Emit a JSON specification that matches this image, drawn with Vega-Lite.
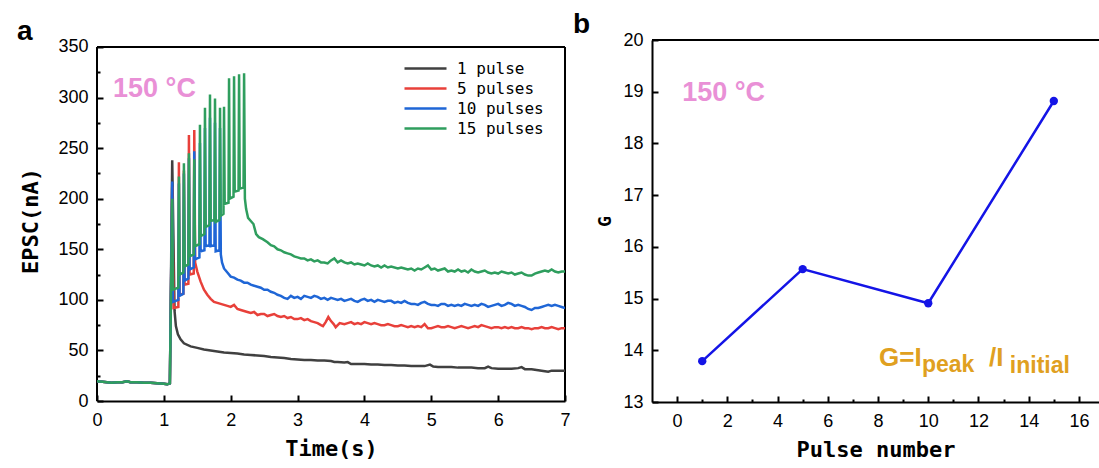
{
"$schema": "https://vega.github.io/schema/vega-lite/v6.json",
"padding": {"left": 17, "top": 11, "right": 0, "bottom": 0},
"spacing": 2,
"config": {
  "view": {"stroke": null},
  "axis": {"domainColor": "black", "domainWidth": 2, "tickColor": "black", "tickWidth": 2, "tickSize": -6, "labelFont": "Liberation Sans", "labelFontSize": 18, "labelColor": "black", "titleFont": "DejaVu Sans Mono", "titleFontSize": 22, "titleFontWeight": "bold", "titleColor": "black", "grid": false, "labelFlush": false, "labelOverlap": false}
},
"datasets": {
"a": [
{"s":"1 pulse","t":0,"v":19.5},{"s":"1 pulse","t":0.08,"v":19},{"s":"1 pulse","t":0.15,"v":18.5},{"s":"1 pulse","t":0.22,"v":18},{"s":"1 pulse","t":0.3,"v":18.5},{"s":"1 pulse","t":0.38,"v":18.5},{"s":"1 pulse","t":0.45,"v":19.5},{"s":"1 pulse","t":0.5,"v":18.5},{"s":"1 pulse","t":0.6,"v":18.5},{"s":"1 pulse","t":0.7,"v":18},{"s":"1 pulse","t":0.8,"v":18},{"s":"1 pulse","t":0.9,"v":17.5},{"s":"1 pulse","t":1.0,"v":17},{"s":"1 pulse","t":1.05,"v":16.5},{"s":"1 pulse","t":1.09,"v":17.5},
{"s":"1 pulse","t":1.125,"v":238},{"s":"1 pulse","t":1.16,"v":89},{"s":"1 pulse","t":1.18,"v":74},{"s":"1 pulse","t":1.21,"v":66},{"s":"1 pulse","t":1.25,"v":61},{"s":"1 pulse","t":1.3,"v":57},{"s":"1 pulse","t":1.4,"v":54},{"s":"1 pulse","t":1.5,"v":52.5},{"s":"1 pulse","t":1.6,"v":51},{"s":"1 pulse","t":1.7,"v":50},{"s":"1 pulse","t":1.8,"v":49},{"s":"1 pulse","t":1.9,"v":48},{"s":"1 pulse","t":2.0,"v":47.5},{"s":"1 pulse","t":2.1,"v":47},{"s":"1 pulse","t":2.2,"v":46},{"s":"1 pulse","t":2.3,"v":45.5},{"s":"1 pulse","t":2.4,"v":45},{"s":"1 pulse","t":2.5,"v":44.5},{"s":"1 pulse","t":2.6,"v":43.5},{"s":"1 pulse","t":2.7,"v":43},{"s":"1 pulse","t":2.8,"v":42.5},{"s":"1 pulse","t":2.9,"v":41.5},{"s":"1 pulse","t":3.0,"v":41},{"s":"1 pulse","t":3.1,"v":40.5},{"s":"1 pulse","t":3.2,"v":40.5},{"s":"1 pulse","t":3.3,"v":40},{"s":"1 pulse","t":3.4,"v":40},{"s":"1 pulse","t":3.5,"v":39.5},{"s":"1 pulse","t":3.55,"v":38.5},{"s":"1 pulse","t":3.6,"v":38.5},{"s":"1 pulse","t":3.7,"v":38},{"s":"1 pulse","t":3.75,"v":38.5},{"s":"1 pulse","t":3.8,"v":36.5},{"s":"1 pulse","t":3.9,"v":36.5},{"s":"1 pulse","t":4.0,"v":36.5},{"s":"1 pulse","t":4.1,"v":36},{"s":"1 pulse","t":4.2,"v":36},{"s":"1 pulse","t":4.3,"v":35.5},{"s":"1 pulse","t":4.4,"v":35.5},{"s":"1 pulse","t":4.5,"v":35},{"s":"1 pulse","t":4.6,"v":35},{"s":"1 pulse","t":4.7,"v":34.5},{"s":"1 pulse","t":4.8,"v":34.5},{"s":"1 pulse","t":4.9,"v":34.5},{"s":"1 pulse","t":4.98,"v":36},{"s":"1 pulse","t":5.03,"v":34},{"s":"1 pulse","t":5.1,"v":33.5},{"s":"1 pulse","t":5.2,"v":33.5},{"s":"1 pulse","t":5.3,"v":33.5},{"s":"1 pulse","t":5.4,"v":33},{"s":"1 pulse","t":5.5,"v":33},{"s":"1 pulse","t":5.6,"v":33},{"s":"1 pulse","t":5.7,"v":32.5},{"s":"1 pulse","t":5.8,"v":32.5},{"s":"1 pulse","t":5.85,"v":34},{"s":"1 pulse","t":5.9,"v":32.5},{"s":"1 pulse","t":6.0,"v":32},{"s":"1 pulse","t":6.1,"v":32},{"s":"1 pulse","t":6.2,"v":32},{"s":"1 pulse","t":6.3,"v":32.5},{"s":"1 pulse","t":6.35,"v":33.5},{"s":"1 pulse","t":6.4,"v":31.5},{"s":"1 pulse","t":6.5,"v":31.5},{"s":"1 pulse","t":6.6,"v":30.5},{"s":"1 pulse","t":6.7,"v":29.5},{"s":"1 pulse","t":6.75,"v":29},{"s":"1 pulse","t":6.8,"v":30},{"s":"1 pulse","t":6.9,"v":30},{"s":"1 pulse","t":7.0,"v":30},
{"s":"5 pulses","t":0,"v":19.5},{"s":"5 pulses","t":0.08,"v":19},{"s":"5 pulses","t":0.15,"v":18.5},{"s":"5 pulses","t":0.22,"v":18},{"s":"5 pulses","t":0.3,"v":18.5},{"s":"5 pulses","t":0.38,"v":18.5},{"s":"5 pulses","t":0.45,"v":19.5},{"s":"5 pulses","t":0.5,"v":18.5},{"s":"5 pulses","t":0.6,"v":18.5},{"s":"5 pulses","t":0.7,"v":18},{"s":"5 pulses","t":0.8,"v":18},{"s":"5 pulses","t":0.9,"v":17.5},{"s":"5 pulses","t":1.0,"v":17},{"s":"5 pulses","t":1.05,"v":16.5},{"s":"5 pulses","t":1.09,"v":17.5},
{"s":"5 pulses","t":1.125,"v":212},{"s":"5 pulses","t":1.145,"v":92},{"s":"5 pulses","t":1.217,"v":93},{"s":"5 pulses","t":1.225,"v":236},{"s":"5 pulses","t":1.235,"v":105},{"s":"5 pulses","t":1.292,"v":106},{"s":"5 pulses","t":1.3,"v":228},{"s":"5 pulses","t":1.31,"v":115},{"s":"5 pulses","t":1.367,"v":116},{"s":"5 pulses","t":1.375,"v":263},{"s":"5 pulses","t":1.385,"v":125},{"s":"5 pulses","t":1.447,"v":126},{"s":"5 pulses","t":1.455,"v":268},{"s":"5 pulses","t":1.468,"v":137},{"s":"5 pulses","t":1.5,"v":128},{"s":"5 pulses","t":1.55,"v":118},{"s":"5 pulses","t":1.6,"v":110},{"s":"5 pulses","t":1.65,"v":105},{"s":"5 pulses","t":1.7,"v":101},{"s":"5 pulses","t":1.75,"v":98},{"s":"5 pulses","t":1.8,"v":97},{"s":"5 pulses","t":1.85,"v":96},{"s":"5 pulses","t":1.9,"v":95},{"s":"5 pulses","t":1.95,"v":94},{"s":"5 pulses","t":2.0,"v":93},{"s":"5 pulses","t":2.05,"v":95},{"s":"5 pulses","t":2.1,"v":91},{"s":"5 pulses","t":2.15,"v":90},{"s":"5 pulses","t":2.2,"v":89},{"s":"5 pulses","t":2.25,"v":88},{"s":"5 pulses","t":2.3,"v":87},{"s":"5 pulses","t":2.35,"v":88},{"s":"5 pulses","t":2.4,"v":85},{"s":"5 pulses","t":2.45,"v":86},{"s":"5 pulses","t":2.5,"v":86},{"s":"5 pulses","t":2.55,"v":84},{"s":"5 pulses","t":2.6,"v":85},{"s":"5 pulses","t":2.65,"v":86},{"s":"5 pulses","t":2.7,"v":84},{"s":"5 pulses","t":2.75,"v":83},{"s":"5 pulses","t":2.8,"v":84},{"s":"5 pulses","t":2.85,"v":82},{"s":"5 pulses","t":2.9,"v":83},{"s":"5 pulses","t":2.95,"v":81},{"s":"5 pulses","t":3.0,"v":81},{"s":"5 pulses","t":3.05,"v":82},{"s":"5 pulses","t":3.1,"v":80},{"s":"5 pulses","t":3.15,"v":81},{"s":"5 pulses","t":3.2,"v":79},{"s":"5 pulses","t":3.25,"v":78},{"s":"5 pulses","t":3.3,"v":77},{"s":"5 pulses","t":3.35,"v":75},{"s":"5 pulses","t":3.38,"v":74},{"s":"5 pulses","t":3.42,"v":78},{"s":"5 pulses","t":3.46,"v":83},{"s":"5 pulses","t":3.5,"v":79},{"s":"5 pulses","t":3.54,"v":76},{"s":"5 pulses","t":3.57,"v":73},{"s":"5 pulses","t":3.6,"v":75},{"s":"5 pulses","t":3.63,"v":77},{"s":"5 pulses","t":3.7,"v":76},{"s":"5 pulses","t":3.75,"v":77},{"s":"5 pulses","t":3.8,"v":78},{"s":"5 pulses","t":3.85,"v":76},{"s":"5 pulses","t":3.9,"v":77},{"s":"5 pulses","t":3.95,"v":76},{"s":"5 pulses","t":4.0,"v":78},{"s":"5 pulses","t":4.05,"v":77},{"s":"5 pulses","t":4.1,"v":76},{"s":"5 pulses","t":4.15,"v":77},{"s":"5 pulses","t":4.2,"v":76},{"s":"5 pulses","t":4.25,"v":75},{"s":"5 pulses","t":4.3,"v":75},{"s":"5 pulses","t":4.35,"v":76},{"s":"5 pulses","t":4.4,"v":75},{"s":"5 pulses","t":4.45,"v":74},{"s":"5 pulses","t":4.5,"v":74},{"s":"5 pulses","t":4.55,"v":75},{"s":"5 pulses","t":4.6,"v":74},{"s":"5 pulses","t":4.65,"v":73},{"s":"5 pulses","t":4.7,"v":74},{"s":"5 pulses","t":4.75,"v":73},{"s":"5 pulses","t":4.8,"v":74},{"s":"5 pulses","t":4.85,"v":73},{"s":"5 pulses","t":4.9,"v":76},{"s":"5 pulses","t":4.95,"v":72},{"s":"5 pulses","t":5.0,"v":72},{"s":"5 pulses","t":5.05,"v":73},{"s":"5 pulses","t":5.1,"v":74},{"s":"5 pulses","t":5.15,"v":73},{"s":"5 pulses","t":5.2,"v":73},{"s":"5 pulses","t":5.25,"v":74},{"s":"5 pulses","t":5.3,"v":73},{"s":"5 pulses","t":5.35,"v":72},{"s":"5 pulses","t":5.4,"v":73},{"s":"5 pulses","t":5.45,"v":74},{"s":"5 pulses","t":5.5,"v":73},{"s":"5 pulses","t":5.55,"v":72},{"s":"5 pulses","t":5.6,"v":73},{"s":"5 pulses","t":5.65,"v":74},{"s":"5 pulses","t":5.7,"v":73},{"s":"5 pulses","t":5.75,"v":75},{"s":"5 pulses","t":5.8,"v":74},{"s":"5 pulses","t":5.85,"v":73},{"s":"5 pulses","t":5.9,"v":72},{"s":"5 pulses","t":5.95,"v":73},{"s":"5 pulses","t":6.0,"v":73},{"s":"5 pulses","t":6.05,"v":72},{"s":"5 pulses","t":6.1,"v":73},{"s":"5 pulses","t":6.15,"v":72},{"s":"5 pulses","t":6.2,"v":73},{"s":"5 pulses","t":6.25,"v":72},{"s":"5 pulses","t":6.3,"v":72},{"s":"5 pulses","t":6.35,"v":73},{"s":"5 pulses","t":6.4,"v":72},{"s":"5 pulses","t":6.45,"v":72},{"s":"5 pulses","t":6.5,"v":71},{"s":"5 pulses","t":6.55,"v":72},{"s":"5 pulses","t":6.6,"v":72},{"s":"5 pulses","t":6.65,"v":73},{"s":"5 pulses","t":6.7,"v":72},{"s":"5 pulses","t":6.75,"v":72},{"s":"5 pulses","t":6.8,"v":73},{"s":"5 pulses","t":6.85,"v":72},{"s":"5 pulses","t":6.9,"v":71},{"s":"5 pulses","t":6.95,"v":72},{"s":"5 pulses","t":7.0,"v":72},
{"s":"10 pulses","t":0,"v":19.5},{"s":"10 pulses","t":0.08,"v":19},{"s":"10 pulses","t":0.15,"v":18.5},{"s":"10 pulses","t":0.22,"v":18},{"s":"10 pulses","t":0.3,"v":18.5},{"s":"10 pulses","t":0.38,"v":18.5},{"s":"10 pulses","t":0.45,"v":19.5},{"s":"10 pulses","t":0.5,"v":18.5},{"s":"10 pulses","t":0.6,"v":18.5},{"s":"10 pulses","t":0.7,"v":18},{"s":"10 pulses","t":0.8,"v":18},{"s":"10 pulses","t":0.9,"v":17.5},{"s":"10 pulses","t":1.0,"v":17},{"s":"10 pulses","t":1.05,"v":16.5},{"s":"10 pulses","t":1.09,"v":17.5},
{"s":"10 pulses","t":1.125,"v":217},{"s":"10 pulses","t":1.135,"v":98},{"s":"10 pulses","t":1.217,"v":100},{"s":"10 pulses","t":1.225,"v":215},{"s":"10 pulses","t":1.235,"v":104},{"s":"10 pulses","t":1.292,"v":106},{"s":"10 pulses","t":1.3,"v":225},{"s":"10 pulses","t":1.31,"v":119},{"s":"10 pulses","t":1.367,"v":121},{"s":"10 pulses","t":1.375,"v":240},{"s":"10 pulses","t":1.385,"v":130},{"s":"10 pulses","t":1.447,"v":132},{"s":"10 pulses","t":1.455,"v":247},{"s":"10 pulses","t":1.465,"v":140},{"s":"10 pulses","t":1.532,"v":142},{"s":"10 pulses","t":1.54,"v":255},{"s":"10 pulses","t":1.55,"v":148},{"s":"10 pulses","t":1.607,"v":149},{"s":"10 pulses","t":1.615,"v":270},{"s":"10 pulses","t":1.625,"v":153},{"s":"10 pulses","t":1.682,"v":154},{"s":"10 pulses","t":1.69,"v":280},{"s":"10 pulses","t":1.7,"v":153},{"s":"10 pulses","t":1.757,"v":154},{"s":"10 pulses","t":1.765,"v":275},{"s":"10 pulses","t":1.775,"v":148},{"s":"10 pulses","t":1.832,"v":149},{"s":"10 pulses","t":1.84,"v":270},{"s":"10 pulses","t":1.852,"v":145},{"s":"10 pulses","t":1.87,"v":137},{"s":"10 pulses","t":1.9,"v":131},{"s":"10 pulses","t":1.95,"v":127},{"s":"10 pulses","t":2.0,"v":123},{"s":"10 pulses","t":2.05,"v":122},{"s":"10 pulses","t":2.1,"v":120},{"s":"10 pulses","t":2.15,"v":119},{"s":"10 pulses","t":2.2,"v":117},{"s":"10 pulses","t":2.25,"v":117},{"s":"10 pulses","t":2.3,"v":115},{"s":"10 pulses","t":2.35,"v":114},{"s":"10 pulses","t":2.4,"v":113},{"s":"10 pulses","t":2.45,"v":112},{"s":"10 pulses","t":2.5,"v":110},{"s":"10 pulses","t":2.55,"v":110},{"s":"10 pulses","t":2.6,"v":108},{"s":"10 pulses","t":2.65,"v":107},{"s":"10 pulses","t":2.7,"v":105},{"s":"10 pulses","t":2.75,"v":104},{"s":"10 pulses","t":2.8,"v":102},{"s":"10 pulses","t":2.85,"v":101},{"s":"10 pulses","t":2.9,"v":104},{"s":"10 pulses","t":2.95,"v":102},{"s":"10 pulses","t":3.0,"v":103},{"s":"10 pulses","t":3.05,"v":101},{"s":"10 pulses","t":3.1,"v":104},{"s":"10 pulses","t":3.15,"v":103},{"s":"10 pulses","t":3.2,"v":102},{"s":"10 pulses","t":3.25,"v":104},{"s":"10 pulses","t":3.3,"v":103},{"s":"10 pulses","t":3.35,"v":101},{"s":"10 pulses","t":3.4,"v":102},{"s":"10 pulses","t":3.45,"v":100},{"s":"10 pulses","t":3.5,"v":102},{"s":"10 pulses","t":3.55,"v":101},{"s":"10 pulses","t":3.6,"v":100},{"s":"10 pulses","t":3.65,"v":101},{"s":"10 pulses","t":3.7,"v":99},{"s":"10 pulses","t":3.75,"v":100},{"s":"10 pulses","t":3.8,"v":101},{"s":"10 pulses","t":3.85,"v":99},{"s":"10 pulses","t":3.9,"v":98},{"s":"10 pulses","t":3.95,"v":100},{"s":"10 pulses","t":4.0,"v":101},{"s":"10 pulses","t":4.05,"v":99},{"s":"10 pulses","t":4.1,"v":100},{"s":"10 pulses","t":4.15,"v":98},{"s":"10 pulses","t":4.2,"v":100},{"s":"10 pulses","t":4.25,"v":99},{"s":"10 pulses","t":4.3,"v":98},{"s":"10 pulses","t":4.35,"v":99},{"s":"10 pulses","t":4.4,"v":99},{"s":"10 pulses","t":4.45,"v":97},{"s":"10 pulses","t":4.5,"v":98},{"s":"10 pulses","t":4.55,"v":97},{"s":"10 pulses","t":4.6,"v":99},{"s":"10 pulses","t":4.65,"v":97},{"s":"10 pulses","t":4.7,"v":96},{"s":"10 pulses","t":4.75,"v":96},{"s":"10 pulses","t":4.8,"v":95},{"s":"10 pulses","t":4.85,"v":97},{"s":"10 pulses","t":4.9,"v":98},{"s":"10 pulses","t":4.95,"v":96},{"s":"10 pulses","t":5.0,"v":95},{"s":"10 pulses","t":5.05,"v":95},{"s":"10 pulses","t":5.1,"v":94},{"s":"10 pulses","t":5.15,"v":96},{"s":"10 pulses","t":5.2,"v":96},{"s":"10 pulses","t":5.25,"v":94},{"s":"10 pulses","t":5.3,"v":95},{"s":"10 pulses","t":5.35,"v":94},{"s":"10 pulses","t":5.4,"v":95},{"s":"10 pulses","t":5.45,"v":94},{"s":"10 pulses","t":5.5,"v":96},{"s":"10 pulses","t":5.55,"v":95},{"s":"10 pulses","t":5.6,"v":94},{"s":"10 pulses","t":5.65,"v":95},{"s":"10 pulses","t":5.7,"v":94},{"s":"10 pulses","t":5.75,"v":96},{"s":"10 pulses","t":5.8,"v":95},{"s":"10 pulses","t":5.85,"v":93},{"s":"10 pulses","t":5.9,"v":94},{"s":"10 pulses","t":5.95,"v":95},{"s":"10 pulses","t":6.0,"v":96},{"s":"10 pulses","t":6.05,"v":94},{"s":"10 pulses","t":6.1,"v":95},{"s":"10 pulses","t":6.15,"v":97},{"s":"10 pulses","t":6.2,"v":96},{"s":"10 pulses","t":6.25,"v":94},{"s":"10 pulses","t":6.3,"v":95},{"s":"10 pulses","t":6.35,"v":94},{"s":"10 pulses","t":6.4,"v":93},{"s":"10 pulses","t":6.45,"v":91},{"s":"10 pulses","t":6.5,"v":90},{"s":"10 pulses","t":6.55,"v":92},{"s":"10 pulses","t":6.6,"v":92},{"s":"10 pulses","t":6.65,"v":93},{"s":"10 pulses","t":6.7,"v":94},{"s":"10 pulses","t":6.75,"v":95},{"s":"10 pulses","t":6.8,"v":94},{"s":"10 pulses","t":6.85,"v":95},{"s":"10 pulses","t":6.9,"v":94},{"s":"10 pulses","t":6.95,"v":93},{"s":"10 pulses","t":7.0,"v":92},
{"s":"15 pulses","t":0,"v":19.5},{"s":"15 pulses","t":0.08,"v":19},{"s":"15 pulses","t":0.15,"v":18.5},{"s":"15 pulses","t":0.22,"v":18},{"s":"15 pulses","t":0.3,"v":18.5},{"s":"15 pulses","t":0.38,"v":18.5},{"s":"15 pulses","t":0.45,"v":19.5},{"s":"15 pulses","t":0.5,"v":18.5},{"s":"15 pulses","t":0.6,"v":18.5},{"s":"15 pulses","t":0.7,"v":18},{"s":"15 pulses","t":0.8,"v":18},{"s":"15 pulses","t":0.9,"v":17.5},{"s":"15 pulses","t":1.0,"v":17},{"s":"15 pulses","t":1.05,"v":16.5},{"s":"15 pulses","t":1.09,"v":17.5},
{"s":"15 pulses","t":1.125,"v":200},{"s":"15 pulses","t":1.135,"v":110},{"s":"15 pulses","t":1.217,"v":112},{"s":"15 pulses","t":1.225,"v":222},{"s":"15 pulses","t":1.235,"v":125},{"s":"15 pulses","t":1.292,"v":127},{"s":"15 pulses","t":1.3,"v":235},{"s":"15 pulses","t":1.31,"v":133},{"s":"15 pulses","t":1.367,"v":135},{"s":"15 pulses","t":1.375,"v":245},{"s":"15 pulses","t":1.385,"v":143},{"s":"15 pulses","t":1.447,"v":145},{"s":"15 pulses","t":1.455,"v":239},{"s":"15 pulses","t":1.465,"v":153},{"s":"15 pulses","t":1.532,"v":155},{"s":"15 pulses","t":1.54,"v":273},{"s":"15 pulses","t":1.55,"v":163},{"s":"15 pulses","t":1.607,"v":165},{"s":"15 pulses","t":1.615,"v":290},{"s":"15 pulses","t":1.625,"v":172},{"s":"15 pulses","t":1.682,"v":174},{"s":"15 pulses","t":1.69,"v":303},{"s":"15 pulses","t":1.7,"v":178},{"s":"15 pulses","t":1.757,"v":179},{"s":"15 pulses","t":1.765,"v":299},{"s":"15 pulses","t":1.775,"v":177},{"s":"15 pulses","t":1.832,"v":179},{"s":"15 pulses","t":1.84,"v":290},{"s":"15 pulses","t":1.85,"v":183},{"s":"15 pulses","t":1.892,"v":185},{"s":"15 pulses","t":1.9,"v":291},{"s":"15 pulses","t":1.91,"v":195},{"s":"15 pulses","t":1.967,"v":196},{"s":"15 pulses","t":1.975,"v":319},{"s":"15 pulses","t":1.985,"v":200},{"s":"15 pulses","t":2.042,"v":202},{"s":"15 pulses","t":2.05,"v":321},{"s":"15 pulses","t":2.06,"v":207},{"s":"15 pulses","t":2.117,"v":208},{"s":"15 pulses","t":2.125,"v":323},{"s":"15 pulses","t":2.135,"v":210},{"s":"15 pulses","t":2.192,"v":211},{"s":"15 pulses","t":2.2,"v":324},{"s":"15 pulses","t":2.212,"v":200},{"s":"15 pulses","t":2.23,"v":190},{"s":"15 pulses","t":2.26,"v":181},{"s":"15 pulses","t":2.3,"v":178},{"s":"15 pulses","t":2.34,"v":175},{"s":"15 pulses","t":2.38,"v":165},{"s":"15 pulses","t":2.42,"v":162},{"s":"15 pulses","t":2.48,"v":160},{"s":"15 pulses","t":2.55,"v":157},{"s":"15 pulses","t":2.6,"v":154},{"s":"15 pulses","t":2.65,"v":153},{"s":"15 pulses","t":2.7,"v":150},{"s":"15 pulses","t":2.75,"v":149},{"s":"15 pulses","t":2.8,"v":147},{"s":"15 pulses","t":2.85,"v":146},{"s":"15 pulses","t":2.9,"v":145},{"s":"15 pulses","t":2.95,"v":143},{"s":"15 pulses","t":3.0,"v":142},{"s":"15 pulses","t":3.05,"v":141},{"s":"15 pulses","t":3.1,"v":141},{"s":"15 pulses","t":3.15,"v":139},{"s":"15 pulses","t":3.2,"v":140},{"s":"15 pulses","t":3.25,"v":138},{"s":"15 pulses","t":3.3,"v":139},{"s":"15 pulses","t":3.35,"v":137},{"s":"15 pulses","t":3.4,"v":137},{"s":"15 pulses","t":3.45,"v":136},{"s":"15 pulses","t":3.5,"v":139},{"s":"15 pulses","t":3.55,"v":141},{"s":"15 pulses","t":3.6,"v":137},{"s":"15 pulses","t":3.65,"v":139},{"s":"15 pulses","t":3.7,"v":137},{"s":"15 pulses","t":3.75,"v":136},{"s":"15 pulses","t":3.8,"v":137},{"s":"15 pulses","t":3.85,"v":135},{"s":"15 pulses","t":3.9,"v":136},{"s":"15 pulses","t":3.95,"v":135},{"s":"15 pulses","t":4.0,"v":134},{"s":"15 pulses","t":4.05,"v":136},{"s":"15 pulses","t":4.1,"v":134},{"s":"15 pulses","t":4.15,"v":133},{"s":"15 pulses","t":4.2,"v":134},{"s":"15 pulses","t":4.25,"v":132},{"s":"15 pulses","t":4.3,"v":134},{"s":"15 pulses","t":4.35,"v":132},{"s":"15 pulses","t":4.4,"v":133},{"s":"15 pulses","t":4.5,"v":131},{"s":"15 pulses","t":4.55,"v":132},{"s":"15 pulses","t":4.6,"v":131},{"s":"15 pulses","t":4.65,"v":130},{"s":"15 pulses","t":4.7,"v":131},{"s":"15 pulses","t":4.75,"v":129},{"s":"15 pulses","t":4.8,"v":131},{"s":"15 pulses","t":4.85,"v":130},{"s":"15 pulses","t":4.9,"v":132},{"s":"15 pulses","t":4.95,"v":134},{"s":"15 pulses","t":5.0,"v":130},{"s":"15 pulses","t":5.05,"v":131},{"s":"15 pulses","t":5.1,"v":129},{"s":"15 pulses","t":5.15,"v":130},{"s":"15 pulses","t":5.2,"v":131},{"s":"15 pulses","t":5.25,"v":128},{"s":"15 pulses","t":5.3,"v":129},{"s":"15 pulses","t":5.35,"v":128},{"s":"15 pulses","t":5.4,"v":130},{"s":"15 pulses","t":5.45,"v":128},{"s":"15 pulses","t":5.5,"v":129},{"s":"15 pulses","t":5.55,"v":127},{"s":"15 pulses","t":5.6,"v":130},{"s":"15 pulses","t":5.65,"v":128},{"s":"15 pulses","t":5.7,"v":127},{"s":"15 pulses","t":5.75,"v":128},{"s":"15 pulses","t":5.8,"v":129},{"s":"15 pulses","t":5.85,"v":127},{"s":"15 pulses","t":5.9,"v":126},{"s":"15 pulses","t":5.95,"v":127},{"s":"15 pulses","t":6.0,"v":126},{"s":"15 pulses","t":6.05,"v":128},{"s":"15 pulses","t":6.1,"v":127},{"s":"15 pulses","t":6.15,"v":126},{"s":"15 pulses","t":6.2,"v":127},{"s":"15 pulses","t":6.25,"v":125},{"s":"15 pulses","t":6.3,"v":126},{"s":"15 pulses","t":6.35,"v":127},{"s":"15 pulses","t":6.4,"v":125},{"s":"15 pulses","t":6.45,"v":124},{"s":"15 pulses","t":6.5,"v":124},{"s":"15 pulses","t":6.55,"v":126},{"s":"15 pulses","t":6.6,"v":127},{"s":"15 pulses","t":6.65,"v":128},{"s":"15 pulses","t":6.7,"v":129},{"s":"15 pulses","t":6.75,"v":128},{"s":"15 pulses","t":6.8,"v":130},{"s":"15 pulses","t":6.85,"v":128},{"s":"15 pulses","t":6.9,"v":127},{"s":"15 pulses","t":6.95,"v":128},{"s":"15 pulses","t":7.0,"v":128}
],
"b": [{"n":1,"g":13.79},{"n":5,"g":15.57},{"n":10,"g":14.91},{"n":15,"g":18.82}]
},
"hconcat": [
{
  "width": 468, "height": 361,
  "title": {"text": "a", "anchor": "start", "frame": "group", "dx": -80, "offset": -8, "font": "Liberation Sans", "fontSize": 28, "fontWeight": "bold", "color": "black"},
  "encoding": {
    "x": {"field": "t", "type": "quantitative", "scale": {"domain": [0, 7], "nice": false, "zero": false},
      "axis": {"title": "Time(s)", "format": "d", "values": [0,0.5,1,1.5,2,2.5,3,3.5,4,4.5,5,5.5,6,6.5,7], "labelExpr": "datum.value % 1 ? '' : datum.label", "tickDash": {"condition": {"test": "datum.value % 1 !== 0", "value": [3, 30]}, "value": [30, 0]}, "labelPadding": 16, "titlePadding": 9}},
    "y": {"field": "v", "type": "quantitative", "scale": {"domain": [0, 356.92], "nice": false},
      "axis": {"title": "EPSC(nA)", "format": "d", "domain": false, "values": [0,25,50,75,100,125,150,175,200,225,250,275,300,325,350], "labelExpr": "datum.value % 50 ? '' : datum.label", "tickDash": {"condition": {"test": "datum.value % 50 !== 0", "value": [3, 30]}, "value": [30, 0]}, "labelPadding": 15, "titlePadding": 15}}
  },
  "layer": [
    {"data": {"values": [{"t": 0, "t2": 7, "v": 350}]}, "mark": {"type": "rule", "color": "black", "strokeWidth": 2}, "encoding": {"x2": {"field": "t2"}}},
    {"data": {"values": [{"t": 0, "v": 0, "v2": 350}, {"t": 7, "v": 0, "v2": 350}]}, "mark": {"type": "rule", "color": "black", "strokeWidth": 2}, "encoding": {"y2": {"field": "v2"}}},
    {"data": {"name": "a"}, "transform": [{"filter": "datum.s === '1 pulse'"}], "mark": {"type": "line", "strokeWidth": 2.5, "clip": true},
     "encoding": {"color": {"field": "s", "type": "nominal", "scale": {"domain": ["1 pulse","5 pulses","10 pulses","15 pulses"], "range": ["#404040","#E8403A","#1F66D6","#2F9E5E"]},
       "legend": {"orient": "none", "legendX": 317, "legendY": 17, "title": null, "symbolType": "M-2.1,0H2.1", "symbolSize": 400, "symbolStrokeWidth": 2.5, "labelOffset": 20, "labelFont": "DejaVu Sans Mono", "labelFontSize": 16, "labelColor": "black", "rowPadding": 0, "padding": 0}}}},
    {"data": {"name": "a"}, "transform": [{"filter": "datum.s === '5 pulses'"}], "mark": {"type": "line", "strokeWidth": 2.5, "clip": true},
     "encoding": {"color": {"field": "s", "type": "nominal", "scale": {"domain": ["1 pulse","5 pulses","10 pulses","15 pulses"], "range": ["#404040","#E8403A","#1F66D6","#2F9E5E"]},
       "legend": {"orient": "none", "legendX": 317, "legendY": 17, "title": null, "symbolType": "M-2.1,0H2.1", "symbolSize": 400, "symbolStrokeWidth": 2.5, "labelOffset": 20, "labelFont": "DejaVu Sans Mono", "labelFontSize": 16, "labelColor": "black", "rowPadding": 0, "padding": 0}}}},
    {"data": {"name": "a"}, "transform": [{"filter": "datum.s === '10 pulses'"}], "mark": {"type": "line", "strokeWidth": 2.5, "clip": true},
     "encoding": {"color": {"field": "s", "type": "nominal", "scale": {"domain": ["1 pulse","5 pulses","10 pulses","15 pulses"], "range": ["#404040","#E8403A","#1F66D6","#2F9E5E"]},
       "legend": {"orient": "none", "legendX": 317, "legendY": 17, "title": null, "symbolType": "M-2.1,0H2.1", "symbolSize": 400, "symbolStrokeWidth": 2.5, "labelOffset": 20, "labelFont": "DejaVu Sans Mono", "labelFontSize": 16, "labelColor": "black", "rowPadding": 0, "padding": 0}}}},
    {"data": {"name": "a"}, "transform": [{"filter": "datum.s === '15 pulses'"}], "mark": {"type": "line", "strokeWidth": 2.5, "clip": true},
     "encoding": {"color": {"field": "s", "type": "nominal", "scale": {"domain": ["1 pulse","5 pulses","10 pulses","15 pulses"], "range": ["#404040","#E8403A","#1F66D6","#2F9E5E"]},
       "legend": {"orient": "none", "legendX": 317, "legendY": 17, "title": null, "symbolType": "M-2.1,0H2.1", "symbolSize": 400, "symbolStrokeWidth": 2.5, "labelOffset": 20, "labelFont": "DejaVu Sans Mono", "labelFontSize": 16, "labelColor": "black", "rowPadding": 0, "padding": 0}}}},
    {"data": {"values": [{"t": 0.24, "v": 301, "label": "150 °C"}]}, "mark": {"type": "text", "align": "left", "baseline": "alphabetic", "font": "Liberation Sans", "fontSize": 27, "fontWeight": "bold", "color": "#E990D6"},
     "encoding": {"text": {"field": "label"}}}
  ]
},
{
  "width": 447, "height": 362,
  "title": {"text": "b", "anchor": "start", "frame": "group", "dx": -79, "offset": -8, "font": "Liberation Sans", "fontSize": 28, "fontWeight": "bold", "color": "black"},
  "encoding": {
    "x": {"field": "n", "type": "quantitative", "scale": {"domain": [-1, 16.8], "nice": false, "zero": false},
      "axis": {"title": "Pulse number", "format": "d", "values": [0,1,2,3,4,5,6,7,8,9,10,11,12,13,14,15,16], "labelExpr": "datum.value % 2 ? '' : datum.label", "tickDash": {"condition": {"test": "datum.value % 2 !== 0", "value": [3, 30]}, "value": [30, 0]}, "labelPadding": 16, "titlePadding": 9}},
    "y": {"field": "g", "type": "quantitative", "scale": {"domain": [13, 20], "nice": false, "zero": false},
      "axis": {"title": "G", "titleFontSize": 18, "format": "d", "values": [13,13.5,14,14.5,15,15.5,16,16.5,17,17.5,18,18.5,19,19.5,20], "labelExpr": "datum.value % 1 ? '' : datum.label", "tickDash": {"condition": {"test": "datum.value % 1 !== 0", "value": [3, 30]}, "value": [30, 0]}, "labelPadding": 15, "titlePadding": 8}}
  },
  "layer": [
    {"data": {"values": [{"n": -1, "n2": 16.8, "g": 20}]}, "mark": {"type": "rule", "color": "black", "strokeWidth": 2}, "encoding": {"x2": {"field": "n2"}}},
    {"data": {"name": "b"}, "mark": {"type": "line", "color": "#1414E6", "strokeWidth": 2.5, "point": {"filled": true, "size": 70, "color": "#1414E6"}}},
    {"data": {"values": [{"n": 0.2, "g": 18.82, "label": "150 °C"}]}, "mark": {"type": "text", "align": "left", "baseline": "alphabetic", "font": "Liberation Sans", "fontSize": 27, "fontWeight": "bold", "color": "#E990D6"}, "encoding": {"text": {"field": "label"}}},
    {"data": {"values": [{"n": 8.04, "g": 13.7, "label": "G=I"}, {"n": 12.42, "g": 13.7, "label": "/I"}]}, "mark": {"type": "text", "align": "left", "baseline": "alphabetic", "font": "Liberation Sans", "fontSize": 26, "fontWeight": "bold", "color": "#E0A020"}, "encoding": {"text": {"field": "label"}}},
    {"data": {"values": [{"n": 9.75, "g": 13.58, "label": "peak"}, {"n": 13.25, "g": 13.56, "label": "initial"}]}, "mark": {"type": "text", "align": "left", "baseline": "alphabetic", "font": "Liberation Sans", "fontSize": 23, "fontWeight": "bold", "color": "#E0A020"}, "encoding": {"text": {"field": "label"}}}
  ]
}
]
}
